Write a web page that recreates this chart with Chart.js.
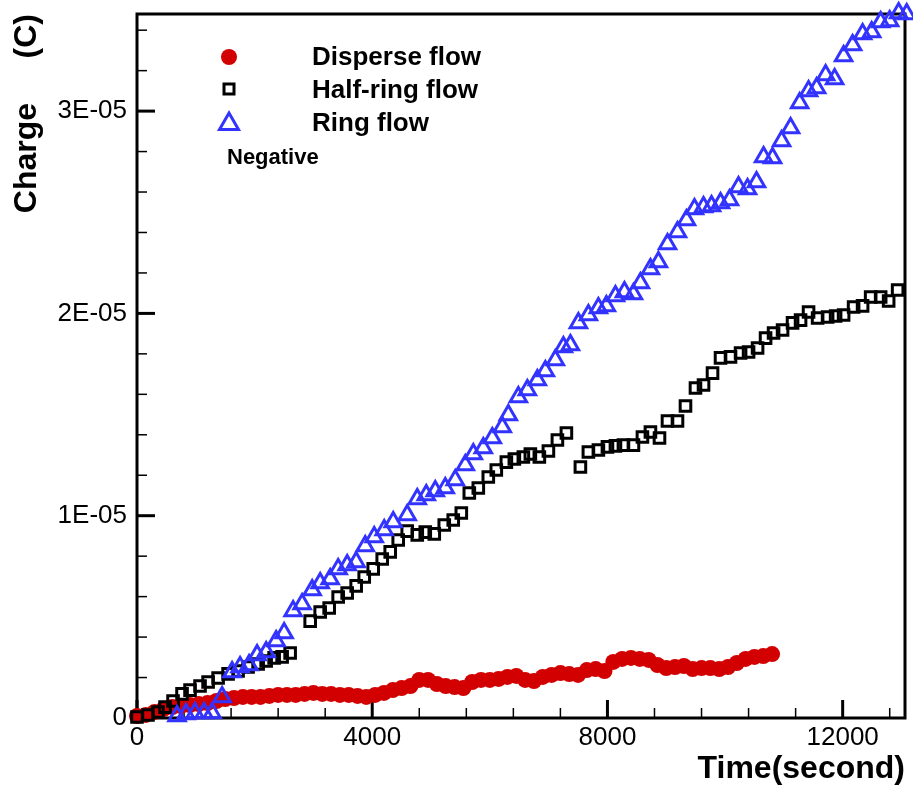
<!DOCTYPE html>
<html>
<head>
<meta charset="utf-8">
<script src="https://cdn.jsdelivr.net/npm/chart.js@4.4.1/dist/chart.umd.min.js"></script>
<style>
  html, body { margin: 0; padding: 0; background: #fff; }
  #wrap { width: 913px; height: 787px; }
</style>
</head>
<body>
<div id="wrap"><canvas id="chart" width="913" height="787"></canvas></div>
<script>
// Charge values are in units of 1E-06 C, time in seconds
const disperseTime = [0, 150, 300, 450, 600, 750, 900, 1050, 1200, 1350, 1500, 1650, 1800, 1950, 2100, 2250, 2400, 2550, 2700, 2850,
    3000, 3150, 3300, 3450, 3600, 3750, 3900, 4050, 4200, 4350, 4500, 4650, 4800, 4950, 5100, 5250, 5400, 5550, 5700, 5850,
    6000, 6150, 6300, 6450, 6600, 6750, 6900, 7050, 7200, 7350, 7500, 7650, 7800, 7950, 8100, 8250, 8400, 8550, 8700, 8850,
    9000, 9150, 9300, 9450, 9600, 9750, 9900, 10050, 10200, 10350, 10500, 10650, 10800];
const disperseCharge = [0.10, 0.15, 0.30, 0.44, 0.54, 0.59, 0.64, 0.69, 0.74, 0.84, 0.94, 0.99, 1.04, 1.04, 1.04, 1.09, 1.14, 1.14, 1.14, 1.19,
    1.24, 1.19, 1.19, 1.14, 1.14, 1.09, 1.04, 1.14, 1.24, 1.38, 1.48, 1.58, 1.88, 1.88, 1.68, 1.58, 1.53, 1.48, 1.78, 1.88,
    1.88, 1.93, 2.03, 2.08, 1.88, 1.83, 2.03, 2.13, 2.22, 2.17, 2.13, 2.37, 2.42, 2.32, 2.77, 2.92, 2.97, 2.92, 2.87, 2.62,
    2.47, 2.52, 2.57, 2.42, 2.47, 2.47, 2.42, 2.52, 2.72, 2.92, 3.02, 3.06, 3.16];

const halfRingTime = [0, 187, 357, 477, 613, 766, 902, 1072, 1209, 1379, 1549, 1719, 1889, 2060, 2196, 2332, 2468, 2604, 2945, 3115,
    3268, 3421, 3574, 3727, 3864, 4017, 4170, 4306, 4442, 4595, 4766, 4902, 5055, 5225, 5378, 5515, 5651, 5804, 5974, 6110,
    6281, 6417, 6570, 6689, 6842, 6996, 7149, 7302, 7540, 7676, 7846, 8000, 8136, 8272, 8442, 8595, 8731, 8885, 9021, 9191,
    9327, 9497, 9634, 9787, 9923, 10093, 10264, 10400, 10553, 10689, 10825, 10978, 11148, 11284, 11420, 11574, 11744, 11880, 12016, 12186,
    12339, 12476, 12646, 12782, 12935];
const halfRingCharge = [0.05, 0.15, 0.30, 0.54, 0.84, 1.19, 1.38, 1.58, 1.78, 1.98, 2.18, 2.32, 2.52, 2.67, 2.82, 2.97, 3.02, 3.21, 4.79, 5.24,
    5.44, 5.98, 6.18, 6.53, 6.97, 7.37, 7.86, 8.21, 8.80, 9.24, 9.05, 9.19, 9.10, 9.54, 9.79, 10.13, 11.12, 11.37, 11.91, 12.26,
    12.65, 12.80, 12.90, 13.05, 12.90, 13.20, 13.74, 14.09, 12.41, 13.15, 13.25, 13.40, 13.45, 13.49, 13.49, 13.89, 14.14, 13.84, 14.68, 14.68,
    15.42, 16.31, 16.46, 17.05, 17.80, 17.85, 18.04, 18.09, 18.29, 18.78, 19.03, 19.18, 19.53, 19.67, 20.07, 19.77, 19.82, 19.87, 19.92, 20.32,
    20.37, 20.81, 20.81, 20.61, 21.16];

const ringTime = [681, 834, 987, 1140, 1277, 1447, 1617, 1753, 1906, 2042, 2196, 2366, 2502, 2655, 2808, 2979, 3115, 3285, 3421, 3574,
    3727, 3881, 4034, 4204, 4357, 4595, 4766, 4919, 5072, 5242, 5412, 5583, 5719, 5889, 6042, 6212, 6314, 6485, 6638, 6808,
    6944, 7114, 7251, 7370, 7506, 7676, 7846, 7982, 8136, 8289, 8442, 8561, 8731, 8867, 9021, 9191, 9344, 9480, 9634, 9770,
    9923, 10076, 10229, 10382, 10535, 10655, 10808, 10961, 11114, 11268, 11420, 11557, 11710, 11863, 12016, 12169, 12339, 12493, 12646, 12799,
    12952, 13089];
const ringCharge = [0.10, 0.20, 0.25, 0.25, 0.25, 1.04, 2.27, 2.52, 2.62, 3.11, 3.26, 3.81, 4.20, 5.29, 5.64, 6.33, 6.67, 6.87, 7.37, 7.56,
    7.71, 8.50, 8.95, 9.29, 9.69, 10.03, 10.83, 11.02, 11.22, 11.37, 11.76, 12.51, 13.05, 13.35, 13.84, 14.38, 14.98, 15.87, 16.21, 16.71,
    17.15, 17.70, 18.34, 18.44, 19.53, 19.92, 20.27, 20.37, 20.86, 21.06, 20.96, 21.50, 22.19, 22.54, 23.43, 24.02, 24.62, 25.16, 25.26, 25.31,
    25.46, 25.61, 26.25, 26.15, 26.50, 27.73, 27.68, 28.52, 29.17, 30.40, 30.99, 31.14, 31.78, 31.59, 32.72, 33.27, 33.81, 33.91, 34.40, 34.45,
    34.85, 34.80];

// Axis ticks
const xMajorTicks = [0, 4000, 8000, 12000];
const xTickLabels = ['0', '4000', '8000', '12000'];
const xMinorTicks = [800, 1600, 2400, 3200, 4800, 5600, 6400, 7200, 8800, 9600, 10400, 11200, 12800];
const yMajorTicks = [0, 10, 20, 30];
const yTickLabels = ['0', '1E-05', '2E-05', '3E-05'];
const yMinorTicks = [2, 4, 6, 8, 12, 14, 16, 18, 22, 24, 26, 28, 32, 34];

const FONT = "'Liberation Sans', Arial, Helvetica, sans-serif";
const RED = '#d20000';
const BLUE = '#3333ff';

function toPoints(xs, ys) {
    return xs.map((x, i) => ({ x: x, y: ys[i] }));
}

// frame + inward tick marks, drawn under the markers
const frameTicks = {
    id: 'frameTicks',
    beforeDatasetsDraw(chart) {
        const { ctx, chartArea: a, scales: { x, y } } = chart;
        const line = (x1, y1, x2, y2) => { ctx.beginPath(); ctx.moveTo(x1, y1); ctx.lineTo(x2, y2); ctx.stroke(); };
        ctx.save();
        ctx.strokeStyle = '#000';
        ctx.lineWidth = 1.5;
        xMinorTicks.forEach(v => { const p = x.getPixelForValue(v); line(p, a.bottom, p, a.bottom - 10); });
        yMinorTicks.forEach(v => { const p = y.getPixelForValue(v); line(a.left, p, a.left + 10, p); });
        ctx.lineWidth = 3;
        xMajorTicks.forEach(v => { const p = x.getPixelForValue(v); line(p, a.bottom, p, a.bottom - 18); });
        yMajorTicks.forEach(v => { const p = y.getPixelForValue(v); line(a.left, p, a.left + 18, p); });
        ctx.strokeRect(a.left, a.top, a.right - a.left, a.bottom - a.top);
        ctx.restore();
    }
};

// legend inside the plot, top left
const insideLegend = {
    id: 'insideLegend',
    afterDatasetsDraw(chart) {
        const { ctx } = chart;
        const mx = 229, tx = 312;
        ctx.save();
        // disperse: filled circle
        ctx.fillStyle = RED;
        ctx.beginPath(); ctx.arc(mx, 57, 8, 0, Math.PI * 2); ctx.fill();
        // half-ring: open square
        ctx.strokeStyle = '#000'; ctx.lineWidth = 3;
        ctx.strokeRect(mx - 5, 89 - 5, 10, 10);
        // ring: open triangle
        ctx.strokeStyle = BLUE; ctx.lineWidth = 3; ctx.lineJoin = 'miter';
        ctx.beginPath(); ctx.moveTo(mx, 113); ctx.lineTo(mx + 9.5, 129.5); ctx.lineTo(mx - 9.5, 129.5); ctx.closePath(); ctx.stroke();

        ctx.fillStyle = '#000';
        ctx.textAlign = 'left';
        ctx.textBaseline = 'alphabetic';
        ctx.font = 'bold 26px ' + FONT;
        chart.data.datasets.forEach((ds, i) => ctx.fillText(ds.label, tx, [65, 98, 131][i]));
        ctx.font = 'bold 22px ' + FONT;
        ctx.fillText('Negative', 227, 164);
        ctx.restore();
    }
};

new Chart(document.getElementById('chart'), {
    type: 'scatter',
    data: {
        datasets: [{
            label: 'Disperse flow',
            data: toPoints(disperseTime, disperseCharge),
            pointStyle: 'circle',
            pointRadius: 8,
            pointBorderWidth: 0,
            backgroundColor: RED,
            borderColor: RED,
            clip: false,
            order: 3
        }, {
            label: 'Half-ring flow',
            data: toPoints(halfRingTime, halfRingCharge),
            pointStyle: 'rect',
            pointRadius: 7.5,
            pointBorderWidth: 3,
            backgroundColor: 'rgba(0,0,0,0)',
            borderColor: '#000',
            clip: false,
            order: 2
        }, {
            label: 'Ring flow',
            data: toPoints(ringTime, ringCharge),
            pointStyle: 'triangle',
            pointRadius: 9.5,
            pointBorderWidth: 3,
            backgroundColor: 'rgba(0,0,0,0)',
            borderColor: BLUE,
            clip: false,
            order: 1
        }]
    },
    options: {
        responsive: false,
        animation: false,
        events: [],
        layout: { autoPadding: false, padding: { top: 14, right: 8, left: 0, bottom: 0 } },
        plugins: { legend: { display: false }, tooltip: { enabled: false } },
        scales: {
            x: {
                type: 'linear', min: 0, max: 13060,
                grid: { display: false, drawTicks: false },
                border: { display: false },
                afterBuildTicks: s => { s.ticks = xMajorTicks.map(v => ({ value: v })); },
                afterFit: s => { s.height = 69; s.paddingLeft = 0; s.paddingRight = 0; },
                ticks: {
                    autoSkip: false, maxRotation: 0, padding: 4, color: '#000',
                    font: { family: FONT, size: 26 },
                    callback: (v, i) => xTickLabels[i]
                },
                title: {
                    display: true, text: 'Time(second)', align: 'end', color: '#000',
                    font: { family: FONT, size: 32, weight: 'bold' },
                    padding: { top: 0, bottom: -1 }
                }
            },
            y: {
                type: 'linear', min: 0, max: 34.8,
                grid: { display: false, drawTicks: false },
                border: { display: false },
                afterBuildTicks: s => { s.ticks = yMajorTicks.map(v => ({ value: v })); },
                afterFit: s => { s.width = 137; s.paddingTop = 0; s.paddingBottom = 0; },
                ticks: {
                    autoSkip: false, padding: 10, color: '#000',
                    font: { family: FONT, size: 26 },
                    callback: (v, i) => yTickLabels[i]
                },
                title: {
                    display: true, text: 'Charge\u00a0\u00a0\u00a0\u00a0\u00a0(C)', align: 'end', color: '#000',
                    font: { family: FONT, size: 32, weight: 'bold' },
                    padding: { top: 8, bottom: 0 }
                }
            }
        }
    },
    plugins: [frameTicks, insideLegend]
});
</script>
</body>
</html>
